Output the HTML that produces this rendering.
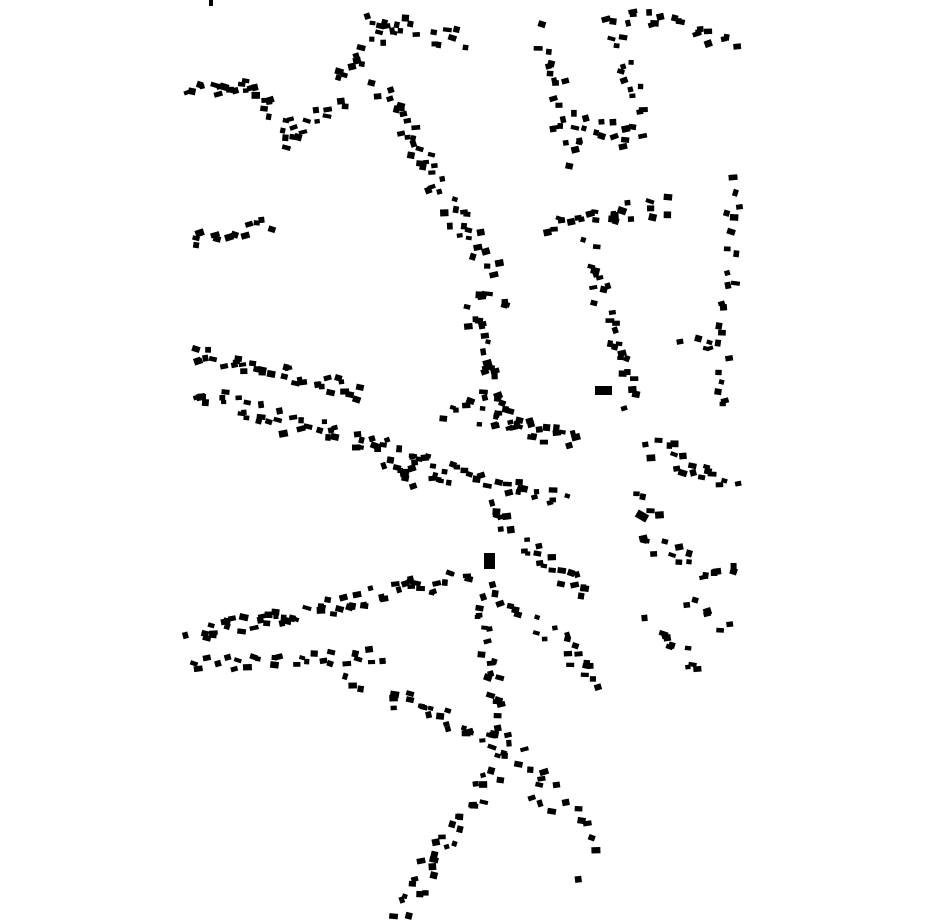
<!DOCTYPE html>
<html><head><meta charset="utf-8"><style>
html,body{margin:0;padding:0;background:#fff;width:930px;height:924px;overflow:hidden}
svg{display:block}
</style></head><body>
<svg id="s" width="930" height="924" viewBox="0 0 930 924" xmlns="http://www.w3.org/2000/svg">
<rect x="209" y="0" width="4" height="6" fill="#000"/>
<rect x="595" y="386" width="17" height="9" fill="#000"/>
<rect x="484" y="553" width="11" height="16" fill="#000"/>
<rect x="636" y="512" width="12" height="8" fill="#000" transform="rotate(30 642 516)"/>
</svg>
<script>
var s=document.getElementById('s');
var seed=12345;function r(){seed=(seed*16807)%2147483647;return seed/2147483647;}
var segs=[
[193,88,250,90,14,6],[250,85,290,130,12,8],[280,145,345,100,12,8],[335,80,400,20,14,9],
[370,25,460,40,16,10],[378,90,420,140,14,10],[410,140,490,270,30,11],
[193,240,265,222,12,8],
[545,35,580,160,18,11],[560,120,640,140,16,12],[610,20,640,110,14,10],[625,15,735,40,18,9],
[548,230,665,205,22,10],[585,250,630,400,26,11],
[735,180,720,410,22,7],[685,340,715,350,5,6],
[475,290,512,310,8,8],[470,310,500,410,20,11],[455,405,570,440,34,14],
[195,352,360,392,34,8],[195,395,450,470,50,11],[385,455,415,480,8,8],
[435,470,560,495,24,10],[485,505,530,550,10,10],
[650,445,730,490,18,11],[632,495,660,515,4,5],[640,540,730,580,16,11],[690,600,725,630,6,8],[652,625,700,670,10,8],
[530,550,590,590,14,11],[540,620,600,680,12,10],[570,640,590,670,4,5],
[193,635,465,578,58,9],[193,665,380,655,26,7],[345,680,360,690,3,4],
[392,695,500,745,24,9],[495,590,515,610,6,6],[480,600,505,760,24,7],
[400,915,495,770,30,9],[520,750,560,800,8,8],[530,800,550,810,3,4],[580,805,595,850,5,6],[578,880,580,882,1,1]
];
var ns='http://www.w3.org/2000/svg';
segs.forEach(function(g){
 var dx=g[2]-g[0],dy=g[3]-g[1];
 for(var i=0;i<g[4];i++){
  var t=g[4]==1?0:i/(g[4]-1);
  var x=g[0]+dx*t+(r()-.5)*g[5]*2,y=g[1]+dy*t+(r()-.5)*g[5]*2;
  var w=5+r()*4,h=4+r()*3;
  var e=document.createElementNS(ns,'rect');
  e.setAttribute('x',(x-w/2).toFixed(1));e.setAttribute('y',(y-h/2).toFixed(1));
  e.setAttribute('width',w.toFixed(1));e.setAttribute('height',h.toFixed(1));
  e.setAttribute('fill','#000');
  e.setAttribute('transform','rotate('+((r()-.5)*40).toFixed(0)+' '+x.toFixed(1)+' '+y.toFixed(1)+')');
  s.appendChild(e);
 }
});
</script>
</body></html>
